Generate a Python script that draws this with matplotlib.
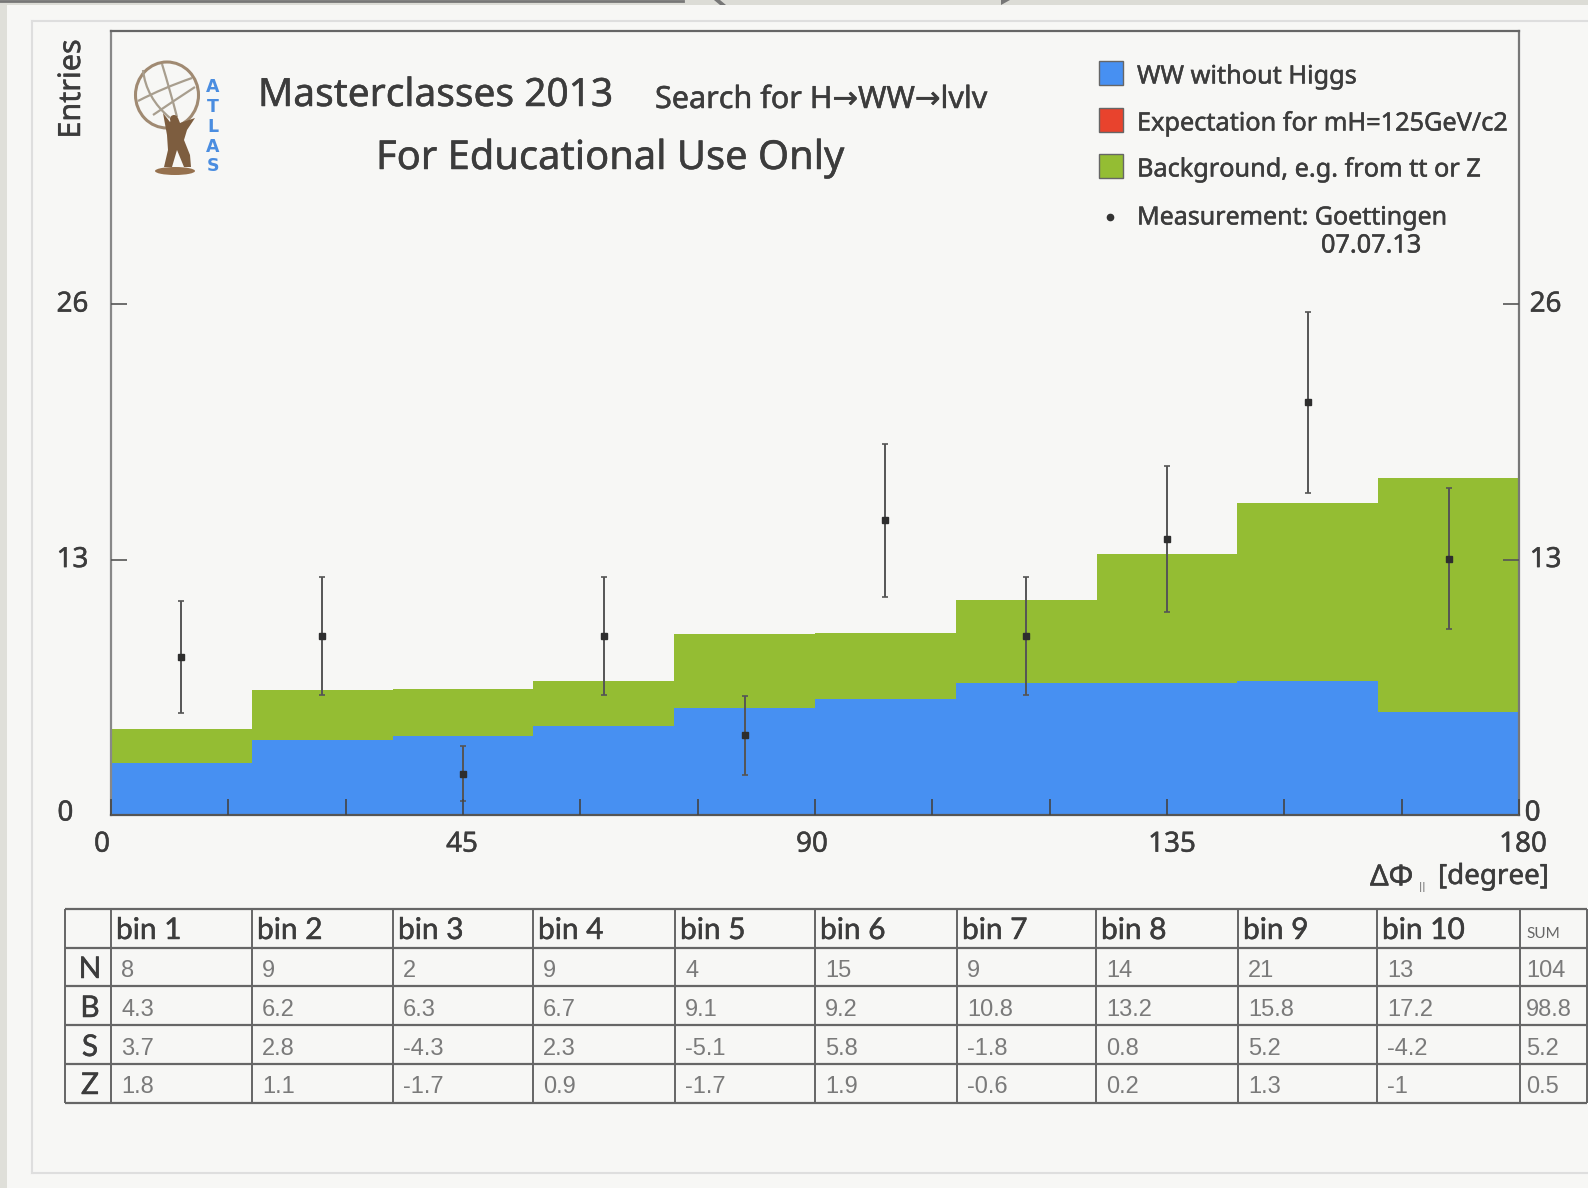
import matplotlib
matplotlib.use('Agg')
import matplotlib.pyplot as plt
import matplotlib.patheffects as pe
from matplotlib.patches import Ellipse, Circle, PathPatch, Polygon, Rectangle
from matplotlib.path import Path
from matplotlib.transforms import ScaledTranslation

W, H = 1588, 1188

bin_edges = [0, 18, 36, 54, 72, 90, 108, 126, 144, 162, 180]
ww_tops = [2.63, 3.8, 4.03, 4.53, 5.47, 5.9, 6.73, 6.73, 6.83, 5.24]
bg_tops = [4.37, 6.36, 6.43, 6.83, 9.2, 9.26, 10.94, 13.3, 15.87, 17.15]
bin_centers = [9, 27, 45, 63, 81, 99, 117, 135, 153, 171]
measured = [8.05, 9.1, 2.1, 9.1, 4.05, 15.0, 9.1, 14.05, 21.0, 13.05]
errors = [2.85, 3.0, 1.4, 3.0, 2.0, 3.9, 3.0, 3.7, 4.6, 3.6]

x_ticks = [0, 15, 30, 45, 60, 75, 90, 105, 120, 135, 150, 165, 180]
x_labels = ['0', '', '', '45', '', '', '90', '', '', '135', '', '', '180']
y_ticks = [0, 13, 26]

headers = ['bin 1', 'bin 2', 'bin 3', 'bin 4', 'bin 5', 'bin 6', 'bin 7', 'bin 8', 'bin 9', 'bin 10', 'SUM']
row_names = ['N', 'B', 'S', 'Z']
row_n = ['8', '9', '2', '9', '4', '15', '9', '14', '21', '13', '104']
row_b = ['4.3', '6.2', '6.3', '6.7', '9.1', '9.2', '10.8', '13.2', '15.8', '17.2', '98.8']
row_s = ['3.7', '2.8', '-4.3', '2.3', '-5.1', '5.8', '-1.8', '0.8', '5.2', '-4.2', '5.2']
row_z = ['1.8', '1.1', '-1.7', '0.9', '-1.7', '1.9', '-0.6', '0.2', '1.3', '-1', '0.5']

BLUE = '#4790f2'
GREEN = '#94bd33'
RED = '#e8432d'
TXT = '#3c3c3c'
BG = '#f7f7f5'
THICK = [pe.withStroke(linewidth=0.35, foreground=TXT)]

plt.rcParams['font.family'] = ['Noto Sans', 'DejaVu Sans']

fig = plt.figure(figsize=(W / 100, H / 100), dpi=100, facecolor=BG)

# page layer in pixel coordinates
page = fig.add_axes([0, 0, 1, 1], zorder=0)
page.set_xlim(0, W)
page.set_ylim(H, 0)
page.axis('off')

page.add_patch(Rectangle((0, 0), 7, H, fc='#dfdfd9', ec='none'))
page.add_patch(Rectangle((0, 0), W, 5, fc='#dcdcd6', ec='none'))
page.plot([0, 683], [0.5, 0.5], color='#777777', lw=2)
page.add_patch(Polygon([[714, 0], [720, 0], [726, 5], [720, 5]], fc='#777777', ec='none'))
page.add_patch(Polygon([[1001, 5], [1010, 0], [1001, 0]], fc='#777777', ec='none'))
page.plot([32, W], [21, 21], color='#dedede', lw=1.5)
page.plot([32, 32], [21, 1173], color='#dedede', lw=1.5)
page.plot([32, W], [1173, 1173], color='#dedede', lw=1.5)

# chart
ax = fig.add_axes([111 / W, 1 - 815 / H, (1519 - 111) / W, (815 - 31) / H], zorder=1)
ax.set_facecolor('none')
ax.stairs(bg_tops, bin_edges, baseline=0, fill=True, color=GREEN, lw=0)
ax.stairs(ww_tops, bin_edges, baseline=0, fill=True, color=BLUE, lw=0)
ax.errorbar(bin_centers, measured, yerr=errors, fmt='s', ms=5, color='#2e2e2e', ecolor='#555555',
            elinewidth=1.4, capsize=2.5, capthick=1.2)
ax.set_xlim(0, 180)
ax.set_ylim(0, 39.9)
ax.set_axisbelow(False)

ax.set_xticks(x_ticks)
ax.set_xticklabels(x_labels, fontsize=20, color=TXT, path_effects=THICK)
ax.set_yticks(y_ticks)
ax.set_yticklabels(['0', '13', '26'], fontsize=20, color=TXT, path_effects=THICK)
ax.tick_params(axis='x', direction='in', length=11.5, width=1.2, color='#444444', pad=12)
ax.tick_params(axis='y', direction='in', length=11.5, width=1.2, color='#555555', left=True, right=True,
               labelleft=True, labelright=True, pad=12)
for s, c in zip(['top', 'left', 'right', 'bottom'], ['#666666', '#888888', '#777777', '#555555']):
    ax.spines[s].set_color(c)
    ax.spines[s].set_linewidth(1.6)

# a few labels sit away from their tick in the original
def nudge(label, dx, dy):
    label.set_transform(label.get_transform() + ScaledTranslation(dx / 100, dy / 100, fig.dpi_scale_trans))

x_nudge = {'0': -9, '45': -1, '90': -3, '135': 5, '180': 4}
for t in ax.get_xticklabels():
    if t.get_text() in x_nudge:
        nudge(t, x_nudge[t.get_text()], 1)

for tick in ax.yaxis.get_major_ticks():
    if tick.label1.get_text() == '0':
        nudge(tick.label1, -21, 5)
        nudge(tick.label2, -11, 5)
    else:
        nudge(tick.label1, -6, 3)
        nudge(tick.label2, -6, 3)

# texts in pixel coordinates on a top layer
top = fig.add_axes([0, 0, 1, 1], zorder=2)
top.set_xlim(0, W)
top.set_ylim(H, 0)
top.axis('off')
top.patch.set_alpha(0)

top.text(72, 89, 'Entries', rotation=90, fontsize=22, color=TXT, ha='center', va='center', path_effects=THICK)
top.text(258, 96, 'Masterclasses 2013', fontsize=28, color=TXT, va='center', path_effects=THICK)
top.text(655, 100, 'Search for H→WW→lvlv', fontsize=22, color=TXT, va='center', path_effects=THICK)
top.text(376, 159, 'For Educational Use Only', fontsize=28.7, color=TXT, va='center', path_effects=THICK)

# legend
swatch_y = [61, 108, 154]
swatch_c = [BLUE, RED, GREEN]
legend_txt = ['WW without Higgs', 'Expectation for mH=125GeV/c2', 'Background, e.g. from tt or Z']
for y, c, s in zip(swatch_y, swatch_c, legend_txt):
    top.add_patch(Rectangle((1099, y), 24, 24, fc=c, ec='#666666', lw=1))
    top.text(1137, y + 16, s, fontsize=18.2, color=TXT, va='center', path_effects=THICK)
top.plot([1110], [217], 'o', color='#333333', ms=4.5)
top.text(1137, 218, 'Measurement: Goettingen', fontsize=18, color=TXT, va='center', path_effects=THICK)
top.text(1321, 246, '07.07.13', fontsize=18.2, color=TXT, va='center', path_effects=THICK)

# x axis title
top.text(1370, 878, 'ΔΦ', fontsize=21, color=TXT, va='center', path_effects=THICK)
top.text(1419, 888, 'll', fontsize=9, color='#888888', va='center')
top.text(1549, 877, '[degree]', fontsize=20, color=TXT, ha='right', va='center', path_effects=THICK)

# logo
BROWN = '#7d5d3f'
GLOBE_LINE = '#a89e8e'
top.add_patch(Ellipse((167, 95), 63, 66, fc='none', ec='#a08a72', lw=2.2))
globe_curves = [
    [(138, 101), (163, 88), (192, 78)],
    [(153, 115), (175, 100), (195, 87)],
    [(143, 70), (146, 98), (170, 118)],
    [(162, 64), (170, 90), (177, 117)],
]
for p0, p1, p2 in globe_curves:
    curve = Path([p0, p1, p2], [Path.MOVETO, Path.CURVE3, Path.CURVE3])
    top.add_patch(PathPatch(curve, fc='none', ec=GLOBE_LINE, lw=1.6))
top.add_patch(Polygon([[163, 113], [170, 122], [172, 118], [178, 118], [180, 123], [195, 118],
                       [187, 130], [184, 140], [190, 155], [191, 167], [184, 167], [177, 150],
                       [172, 167], [164, 167], [168, 150], [167, 135]], fc=BROWN, ec='none'))
top.add_patch(Circle((174, 119), 4, fc=BROWN, ec='none'))
top.add_patch(Ellipse((175, 171), 40, 8, fc='#96714e', ec='none'))
for y, ch in zip([87, 107, 127, 147, 166], 'ATLAS'):
    top.text(213, y, ch, family='DejaVu Sans', fontsize=12.5, color='#4a8de0', ha='center', va='center',
             fontweight='bold')

# table
col_x = [65, 111, 252, 393, 533, 675, 815, 957, 1096, 1238, 1377, 1520, 1587]
row_y = [909, 948, 986, 1025, 1064, 1103]
for x in col_x:
    top.plot([x, x], [row_y[0], row_y[-1]], color='#666666', lw=1.4, solid_capstyle='butt')
for y in row_y:
    top.plot([col_x[0], col_x[-1]], [y, y], color='#666666', lw=1.6, solid_capstyle='butt')

for i, h in enumerate(headers):
    if h == 'SUM':
        top.text(col_x[i + 1] + 6, 934, h, family='Lato', fontsize=11, color='#666666', va='center')
    else:
        top.text(col_x[i + 1] + 5, 930, h, family='Lato', fontsize=21.5, color=TXT, va='center',
                 path_effects=THICK)

row_cy = [971, 1010, 1049, 1087]
for name, cy, vals in zip(row_names, row_cy, [row_n, row_b, row_s, row_z]):
    top.text(90, cy - 2, name, family='Lato', fontsize=21.5, color=TXT, ha='center', va='center',
             path_effects=THICK)
    for i, v in enumerate(vals):
        off = 6 if i == 10 else 10
        top.text(col_x[i + 1] + off, cy, v, family='Liberation Sans', fontsize=17, color='#7a7a7a', va='center')

fig.savefig('out.png', dpi=100, facecolor=BG)
